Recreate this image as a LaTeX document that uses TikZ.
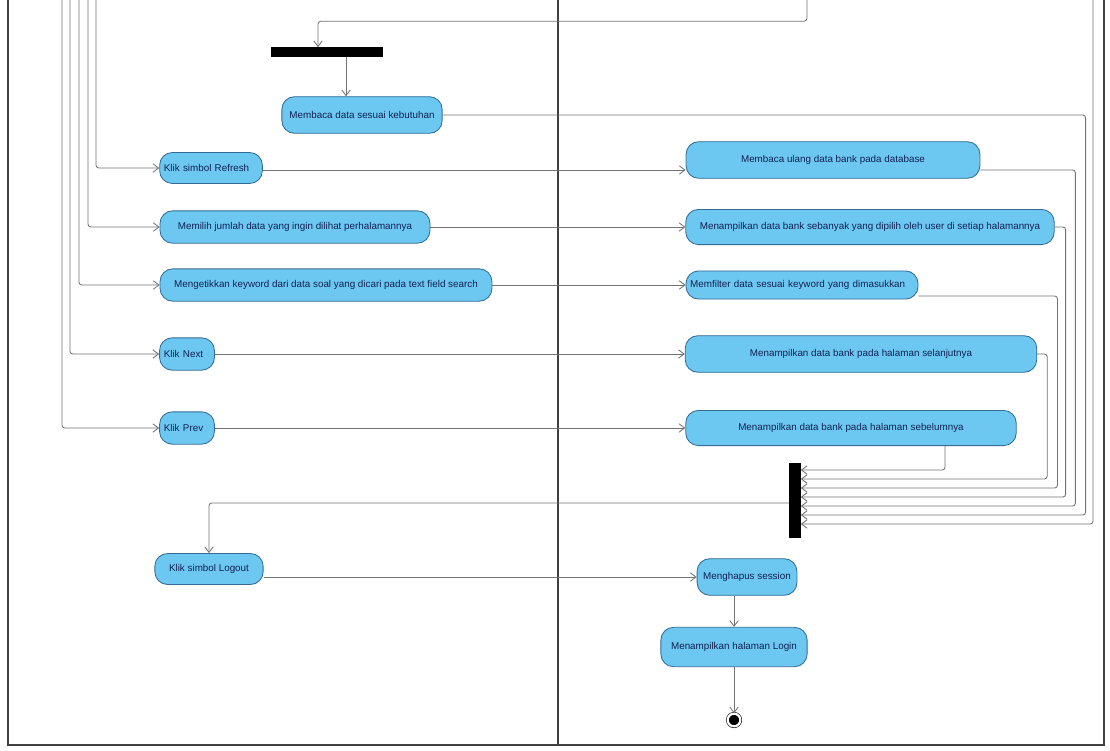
\documentclass[tikz,border=0pt]{standalone}
\usepackage{fontspec}
\setsansfont{Liberation Sans}
\usetikzlibrary{arrows.meta,positioning,calc}
\definecolor{actfill}{RGB}{108,200,240}
\definecolor{actline}{RGB}{52,108,150}
\definecolor{acttext}{RGB}{18,32,84}
\tikzset{
  actnode/.style={rectangle, draw=actline, fill=actfill, line width=0.6pt, rounded corners=9pt,
    minimum height=24pt, align=center, text=acttext, font=\sffamily\fontsize{7}{8}\selectfont,
    inner sep=3pt},
  leftact/.style={actnode, align=left},
  barnode/.style={rectangle, fill=black, draw=black, inner sep=0pt},
  finalnode/.style={circle, draw=black, fill=black, double=white, double distance=1.6pt,
    minimum size=9pt, inner sep=0pt},
  flowarrow/.style={-{Straight Barb[length=4pt,width=6pt]}, draw=black!55, line width=0.6pt,
    rounded corners=2pt},
  laneline/.style={draw=black!75, line width=1.1pt},
}

\begin{document}
\begin{tikzpicture}[x=0.025cm, y=-0.025cm]
  \fill[white] (0,0) rectangle (1110,750);
  \useasboundingbox (0,0) rectangle (1110,750);

  % Swimlane borders
  \draw[laneline] (8,0) -- (8,745) -- (1104,745) -- (1104,0);
  \draw[laneline] (558,0) -- (558,745);

  % Bars
  \node[barnode, minimum width=79pt, minimum height=6.4pt] (fork) at (327,52) {};
  \node[barnode, minimum width=7.8pt, minimum height=52.6pt] (join) at (795,500) {};

  % Left lane actions
  \node[actnode, minimum width=114pt, minimum height=26pt] (sesuai) at (362,115) {Membaca data sesuai kebutuhan};
  \node[leftact, text width=67pt, minimum height=22pt] (refresh) at (211,168) {Klik simbol Refresh};
  \node[actnode, minimum width=192pt, minimum height=23pt] (memilih) at (295,227) {Memilih jumlah data yang ingin dilihat perhalamannya};
  \node[actnode, minimum width=236pt, minimum height=23pt] (ketik) at (326,285) {Mengetikkan keyword dari data soal yang dicari pada text field search};
  \node[leftact, text width=33pt, minimum height=23pt] (next) at (187,354) {Klik Next};
  \node[leftact, text width=33pt, minimum height=23pt] (prev) at (187,428) {Klik Prev};
  \node[actnode, minimum width=77pt, minimum height=22pt] (logout) at (209,569) {Klik simbol Logout};

  % Right lane actions
  \node[actnode, minimum width=209pt, minimum height=26pt] (ulang) at (833,160) {Membaca ulang data bank pada database};
  \node[actnode, minimum width=262pt, minimum height=25pt] (sebanyak) at (870,227) {Menampilkan data bank sebanyak yang dipilih oleh user di setiap halamannya};
  \node[leftact, text width=159pt, minimum height=20pt] (filter) at (802,285) {Memfilter data sesuai keyword yang dimasukkan};
  \node[actnode, minimum width=250pt, minimum height=26pt] (lanjut) at (861,354) {Menampilkan data bank pada halaman selanjutnya};
  \node[actnode, minimum width=235pt, minimum height=25pt] (sebelum) at (851,428) {Menampilkan data bank pada halaman sebelumnya};
  \node[actnode, minimum width=71pt, minimum height=26pt] (hapus) at (747,577) {Menghapus session};
  \node[actnode, minimum width=104pt, minimum height=28pt] (login) at (734,647) {Menampilkan halaman Login};
  \node[finalnode] (akhir) at (734,720) {};

  % Flows coming from above the page
  \coordinate (tsync) at (807,0);
  \coordinate (trefresh) at (96,0);
  \coordinate (tmemilih) at (88,0);
  \coordinate (tketik) at (79,0);
  \coordinate (tnext) at (70,0);
  \coordinate (tprev) at (62,0);
  \coordinate (tjoin) at (1093,0);

  \draw[flowarrow] (tsync) |- ($(fork.north)+(-9,-26)$) -- ($(fork.north)+(-9,0)$);
  \draw[flowarrow] ($(fork.south)+(19,0)$) -- ($(sesuai.north)+(-16,0)$);
  \draw[flowarrow] (trefresh) |- (refresh.west);
  \draw[flowarrow] (tmemilih) |- (memilih.west);
  \draw[flowarrow] (tketik) |- (ketik.west);
  \draw[flowarrow] (tnext) |- (next.west);
  \draw[flowarrow] (tprev) |- (prev.west);

  % User actions to system actions
  \draw[flowarrow] ($(refresh.east)+(0,2)$) -- ($(ulang.west)+(0,10)$);
  \draw[flowarrow] (memilih.east) -- (sebanyak.west);
  \draw[flowarrow] (ketik.east) -- (filter.west);
  \draw[flowarrow] (next.east) -- (lanjut.west);
  \draw[flowarrow] (prev.east) -- (sebelum.west);
  \draw[flowarrow] ($(logout.east)+(0,8)$) -- (hapus.west);

  % Into the join bar
  \draw[flowarrow] ($(sebelum.south)+(94,0)$) |- ($(join.east)+(0,-30)$);
  \draw[flowarrow] (lanjut.east) -- ++(10,0) |- ($(join.east)+(0,-21)$);
  \draw[flowarrow] ($(filter.east)+(0,11)$) -- ++(139,0) |- ($(join.east)+(0,-12)$);
  \draw[flowarrow] (sebanyak.east) -- ++(11,0) |- ($(join.east)+(0,-3)$);
  \draw[flowarrow] ($(ulang.east)+(0,10)$) -- ++(95,0) |- ($(join.east)+(0,6)$);
  \draw[flowarrow] (sesuai.east) -- ++(643,0) |- ($(join.east)+(0,15)$);
  \draw[flowarrow] (tjoin) |- ($(join.east)+(0,24)$);

  % Logout
  \draw[flowarrow] ($(join.west)+(0,3)$) -| (logout.north);
  \draw[flowarrow] (hapus.south -| login.north) -- (login.north);
  \draw[flowarrow] (login) -- (akhir);
\end{tikzpicture}
\end{document}
